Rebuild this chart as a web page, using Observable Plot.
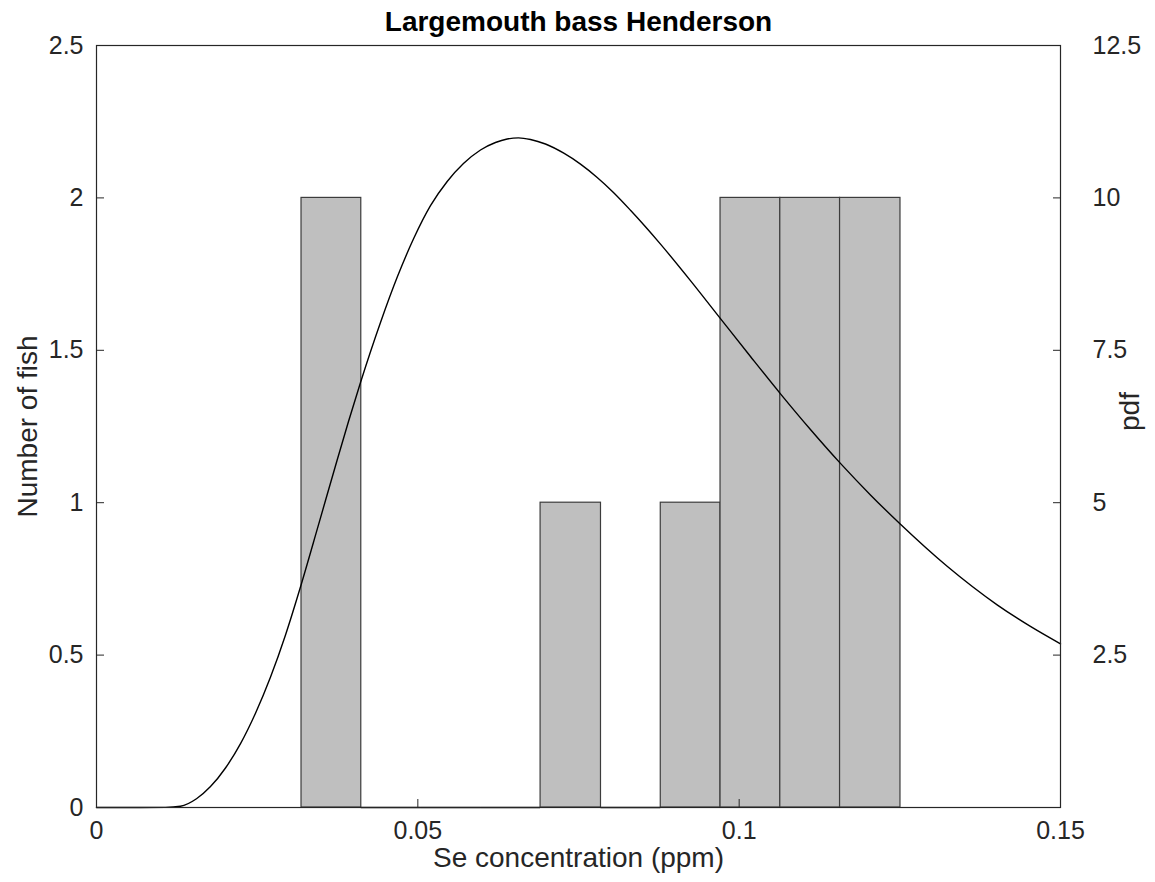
<!DOCTYPE html>
<html><head><meta charset="utf-8">
<script src="https://cdn.jsdelivr.net/npm/d3@7"></script>
<script src="https://cdn.jsdelivr.net/npm/@observablehq/plot@0.6"></script>
<style>html,body{margin:0;padding:0;background:#fff;}</style>
</head><body><div id="chart"></div>
<script>
const title = "Largemouth bass Henderson";
const xLabel = "Se concentration (ppm)";
const yLabel = "Number of fish";
const y2Label = "pdf";

// histogram bins (edges) and counts
const binEdges = [0.0319, 0.0412, 0.0505, 0.0598, 0.0691, 0.0785, 0.0878, 0.0971, 0.1064, 0.1157, 0.1251];
const binCounts = [2, 0, 0, 0, 1, 0, 1, 2, 2, 2];

// fitted pdf curve
const pdfX = [0, 0.00685, 0.01073, 0.01307, 0.01556, 0.01774, 0.02007, 0.02241, 0.02474, 0.02708, 0.02941, 0.03190, 0.03454, 0.03719, 0.03921, 0.04108, 0.04419, 0.04683, 0.04937, 0.05197, 0.05457, 0.05710, 0.05975, 0.06208, 0.06390, 0.06566, 0.06753, 0.06986, 0.07271, 0.07531, 0.07791, 0.08044, 0.08309, 0.08776, 0.09242, 0.09709, 0.10176, 0.10643, 0.11109, 0.11576, 0.12043, 0.12510, 0.13236, 0.14014, 0.14532, 0.15];
const pdfY = [0, 0, 0.002, 0.021, 0.144, 0.343, 0.648, 1.048, 1.547, 2.141, 2.831, 3.675, 4.636, 5.607, 6.332, 6.972, 7.956, 8.709, 9.337, 9.872, 10.269, 10.563, 10.786, 10.909, 10.966, 10.984, 10.958, 10.884, 10.733, 10.554, 10.335, 10.089, 9.797, 9.242, 8.643, 8.020, 7.398, 6.786, 6.201, 5.645, 5.128, 4.646, 3.957, 3.325, 2.971, 2.685];

const xTicks = [0, 0.05, 0.1, 0.15];
const xTickLabels = ["0", "0.05", "0.1", "0.15"];
const yTicks = [0, 0.5, 1, 1.5, 2, 2.5];
const yTickLabels = ["0", "0.5", "1", "1.5", "2", "2.5"];
const y2Ticks = [2.5, 5, 7.5, 10, 12.5];
const y2TickLabels = ["2.5", "5", "7.5", "10", "12.5"];
const xMax = 0.15, yMax = 2.5, y2Max = 12.5;

const ratio = yMax / y2Max;
const bins = binCounts.map((c, i) => ({x1: binEdges[i], x2: binEdges[i + 1], count: c}));
const curve = pdfX.map((x, i) => ({x, pdf: pdfY[i]}));
const lookup = (ticks, labels, scale = 1) => d => {
  const i = ticks.findIndex(v => Math.abs(v * scale - d) < 1e-9);
  return i >= 0 ? labels[i] : "";
};
const ink = "#262626";

const chart = Plot.plot({
  width: 1155,
  height: 882,
  marginLeft: 96,
  marginRight: 95,
  marginTop: 45,
  marginBottom: 75,
  style: {fontFamily: "'Liberation Sans', Arial, sans-serif", fontSize: "25px", color: ink, background: "#fff"},
  x: {domain: [0, xMax]},
  y: {domain: [0, yMax]},
  marks: [
    Plot.rectY(bins.filter(d => d.count > 0), {x1: "x1", x2: "x2", y1: 0, y2: "count", fill: "#bfbfbf", stroke: "#3c3c3c", strokeWidth: 1.2}),
    Plot.ruleY(bins.filter(d => d.count === 0), {x1: "x1", x2: "x2", y: 0, stroke: "#1a1a1a", strokeWidth: 1.5}),
    Plot.line(curve, {x: "x", y: d => d.pdf * ratio, stroke: "#000", strokeWidth: 1.4, curve: "monotone-x"}),
    Plot.frame({stroke: ink, strokeWidth: 1.2}),
    Plot.axisX(xTicks, {anchor: "bottom", tickSize: -8, tickPadding: 22, tickFormat: lookup(xTicks, xTickLabels), label: null, stroke: ink}),
    Plot.axisY(yTicks, {anchor: "left", tickSize: -8, tickPadding: 21, tickFormat: lookup(yTicks, yTickLabels), label: null, stroke: ink}),
    Plot.axisY(y2Ticks.map(v => v * ratio), {anchor: "right", tickSize: -8, tickPadding: 40, tickFormat: lookup(y2Ticks, y2TickLabels, ratio), label: null, stroke: ink}),
    Plot.text([title], {frameAnchor: "top", dy: -23, lineAnchor: "middle", textAnchor: "middle", fontWeight: "bold", fontSize: 28, fill: "#000"}),
    Plot.text([xLabel], {frameAnchor: "bottom", dy: 51, lineAnchor: "middle", textAnchor: "middle", fontSize: 28, fill: ink}),
    Plot.text([yLabel], {frameAnchor: "left", dx: -68, rotate: -90, lineAnchor: "middle", textAnchor: "middle", fontSize: 28, fill: ink}),
    Plot.text([y2Label], {frameAnchor: "right", dx: 70, dy: -15, rotate: -90, lineAnchor: "middle", textAnchor: "middle", fontSize: 28, fill: ink})
  ]
});
document.getElementById("chart").appendChild(chart);
</script>
</body></html>
